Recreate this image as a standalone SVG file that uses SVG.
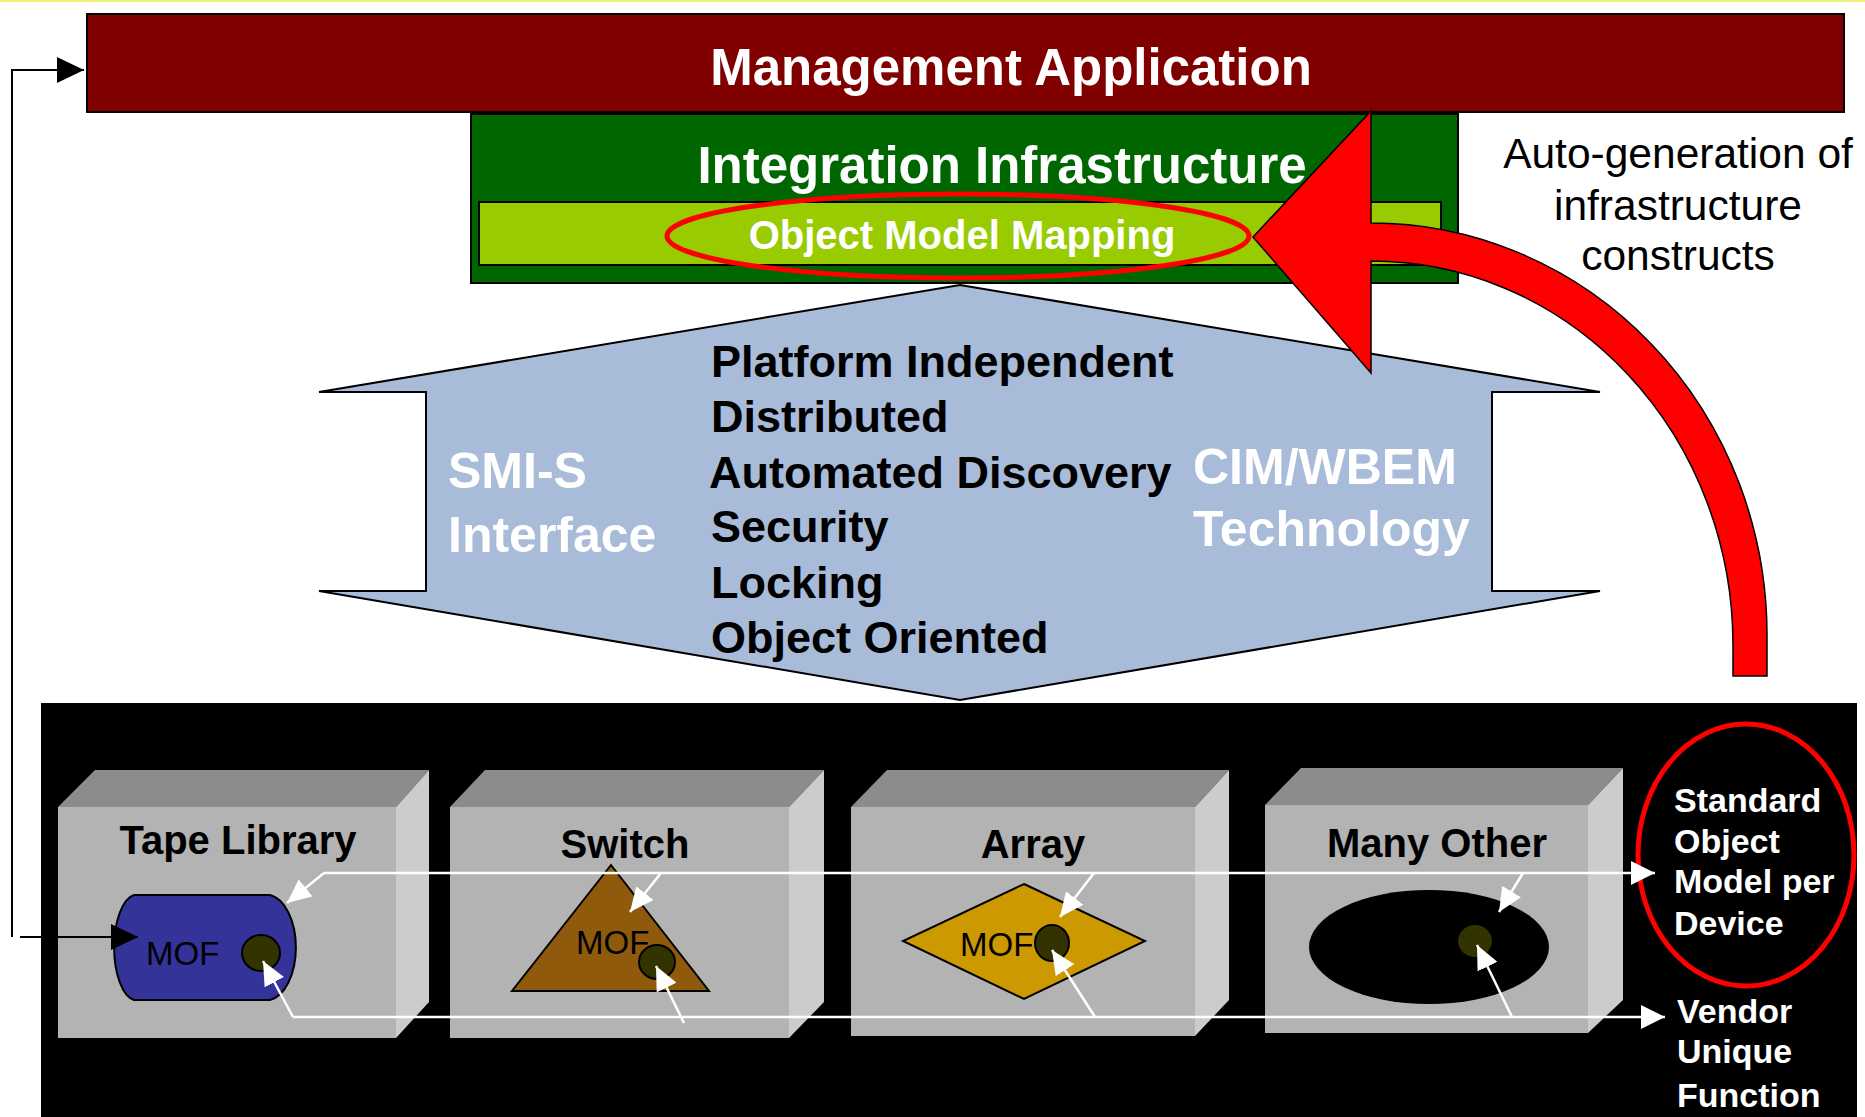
<svg xmlns="http://www.w3.org/2000/svg" width="1865" height="1117" viewBox="0 0 1865 1117">
<defs>
<style>
text{font-family:"Liberation Sans",Arial,sans-serif}
.b{font-weight:bold}
.w{fill:#fff}
.k{fill:#000}
.box{stroke:#000;stroke-width:2}
.face{fill:#B3B3B3}
.top{fill:#8C8C8C}
.side{fill:#CCCCCC}
.wl{stroke:#fff;stroke-width:2.5;fill:none}
.kl{stroke:#000;stroke-width:2;fill:none}
.lbl{font-size:40px;font-weight:bold;fill:#000;text-anchor:middle}
.mof{font-size:33px;fill:#000}
.pt{font-size:45px;font-weight:bold;fill:#000}
.side-t{font-size:50px;font-weight:bold;fill:#fff}
.note{font-size:34px;font-weight:bold;fill:#fff}
</style>
<marker id="wa" viewBox="0 0 24 24" markerWidth="24" markerHeight="24" refX="24" refY="12" orient="auto" markerUnits="userSpaceOnUse"><path d="M0,0 L24,12 L0,24 Z" fill="#fff"/></marker>
<marker id="ws" viewBox="0 0 24 22" markerWidth="24" markerHeight="22" refX="24" refY="11" orient="auto" markerUnits="userSpaceOnUse"><path d="M0,0 L24,11 L0,22 Z" fill="#fff"/></marker>
<marker id="ka" viewBox="0 0 27 26" markerWidth="27" markerHeight="26" refX="27" refY="13" orient="auto" markerUnits="userSpaceOnUse"><path d="M0,0 L27,13 L0,26 Z" fill="#000"/></marker>
</defs>
<rect x="0" y="0" width="1865" height="1117" fill="#fff"/>
<rect x="0" y="0" width="1865" height="2" fill="#F2F27A"/>

<g id="management-application">
<rect x="87" y="14" width="1757" height="98" fill="#800000" class="box"/>
<text x="1011" y="85" class="b w" font-size="51" text-anchor="middle">Management Application</text>
</g>

<g id="integration-infrastructure">
<rect x="471" y="114" width="987" height="169" fill="#006600" class="box"/>
<text x="1002" y="183" class="b w" font-size="51" text-anchor="middle">Integration Infrastructure</text>
</g>

<g id="object-model-mapping">
<rect x="479" y="202" width="962" height="63" fill="#99CC00" class="box"/>
<ellipse cx="958" cy="236" rx="291" ry="42" fill="none" stroke="#FF0000" stroke-width="5"/>
<text x="962" y="249" class="b w" font-size="40" text-anchor="middle">Object Model Mapping</text>
</g>

<g id="smi-s-cim-wbem">
<path d="M960,285 L1600,392 L1492,392 L1492,591 L1600,591 L960,700 L319,591 L426,591 L426,392 L319,392 Z" fill="#A8BBD8" stroke="#000" stroke-width="2"/>
<text x="448" y="488" class="side-t">SMI-S</text>
<text x="448" y="552" class="side-t">Interface</text>
<text x="1193" y="484" class="side-t">CIM/WBEM</text>
<text x="1193" y="546" class="side-t">Technology</text>
<text x="711" y="377" class="pt">Platform Independent</text>
<text x="711" y="432" class="pt">Distributed</text>
<text x="709" y="488" class="pt">Automated Discovery</text>
<text x="711" y="542" class="pt">Security</text>
<text x="711" y="598" class="pt">Locking</text>
<text x="711" y="653" class="pt">Object Oriented</text>
</g>

<g id="auto-generation">
<path d="M1371,111 L1253,237 L1371,373 L1371,261 A362,384 0 0 1 1733,645 L1733,676 L1767,676 L1767,635 A396,412 0 0 0 1371,223 Z" fill="#FF0000" stroke="#000" stroke-width="1.5"/>
<text x="1678" y="168" font-size="42.5" fill="#000" text-anchor="middle">Auto-generation of</text>
<text x="1678" y="220" font-size="42.5" fill="#000" text-anchor="middle">infrastructure</text>
<text x="1678" y="270" font-size="42.5" fill="#000" text-anchor="middle">constructs</text>
</g>

<g id="device-layer">
<rect x="41" y="703" width="1816" height="414" fill="#000"/>
</g>

<g id="tape-library">
<polygon points="58,807 95,770 429,770 396,807" class="top"/>
<polygon points="396,807 429,770 429,1002 396,1038" class="side"/>
<rect x="58" y="807" width="338" height="231" class="face"/>
<text x="238" y="854" class="lbl">Tape Library</text>
<path d="M134,895 H270 A30,53 0 0 1 270,1000 H134 A23,53 0 0 1 134,895 Z" fill="#333399" stroke="#000" stroke-width="2"/>
<text x="146" y="965" class="mof">MOF</text>
<ellipse cx="261" cy="953" rx="19" ry="18" fill="#333300" stroke="#000" stroke-width="2"/>
</g>

<g id="switch">
<polygon points="450,807 485,770 824,770 789,807" class="top"/>
<polygon points="789,807 824,770 824,1002 789,1038" class="side"/>
<rect x="450" y="807" width="339" height="231" class="face"/>
<text x="625" y="858" class="lbl">Switch</text>
<polygon points="611,865 709,991 512,991" fill="#8F5A0C" stroke="#000" stroke-width="2"/>
<text x="576" y="954" class="mof">MOF</text>
<ellipse cx="657" cy="962" rx="18" ry="17" fill="#333300" stroke="#000" stroke-width="2"/>
</g>

<g id="array">
<polygon points="851,807 887,770 1229,770 1195,807" class="top"/>
<polygon points="1195,807 1229,770 1229,1000 1195,1036" class="side"/>
<rect x="851" y="807" width="344" height="229" class="face"/>
<text x="1033" y="858" class="lbl">Array</text>
<polygon points="1024,884 1145,941 1024,999 903,941" fill="#CC9900" stroke="#000" stroke-width="2"/>
<text x="960" y="956" class="mof">MOF</text>
<ellipse cx="1052" cy="943" rx="17" ry="18" fill="#333300" stroke="#000" stroke-width="2"/>
</g>

<g id="many-other">
<polygon points="1265,805 1301,768 1623,768 1588,805" class="top"/>
<polygon points="1588,805 1623,768 1623,1000 1588,1033" class="side"/>
<rect x="1265" y="805" width="323" height="228" class="face"/>
<text x="1437" y="857" class="lbl">Many Other</text>
<ellipse cx="1429" cy="947" rx="120" ry="57" fill="#000"/>
<ellipse cx="1475" cy="941" rx="17" ry="16" fill="#333300"/>
</g>

<g id="standard-object-model">
<ellipse cx="1746" cy="855" rx="108" ry="131" fill="none" stroke="#FF0000" stroke-width="5"/>
<text x="1674" y="812" class="note">Standard</text>
<text x="1674" y="853" class="note">Object</text>
<text x="1674" y="893" class="note">Model per</text>
<text x="1674" y="935" class="note">Device</text>
</g>

<g id="vendor-unique-function">
<text x="1677" y="1023" class="note">Vendor</text>
<text x="1677" y="1063" class="note">Unique</text>
<text x="1677" y="1107" class="note">Function</text>
</g>

<g id="connectors">
<path d="M12,937 V70 H84" class="kl" marker-end="url(#ka)"/>
<path d="M20,937 H138" class="kl" marker-end="url(#ka)"/>
<path d="M324,873 H1655" class="wl" marker-end="url(#wa)"/>
<path d="M324,873 L287,903" class="wl" marker-end="url(#ws)"/>
<path d="M661,873 L630,912" class="wl" marker-end="url(#ws)"/>
<path d="M1094,873 L1060,917" class="wl" marker-end="url(#ws)"/>
<path d="M1523,873 L1499,912" class="wl" marker-end="url(#ws)"/>
<path d="M293,1017 H1665" class="wl" marker-end="url(#wa)"/>
<path d="M293,1017 L263,961" class="wl" marker-end="url(#ws)"/>
<path d="M684,1023 L656,966" class="wl" marker-end="url(#ws)"/>
<path d="M1095,1017 L1052,950" class="wl" marker-end="url(#ws)"/>
<path d="M1512,1017 L1477,945" class="wl" marker-end="url(#ws)"/>
</g>
</svg>
